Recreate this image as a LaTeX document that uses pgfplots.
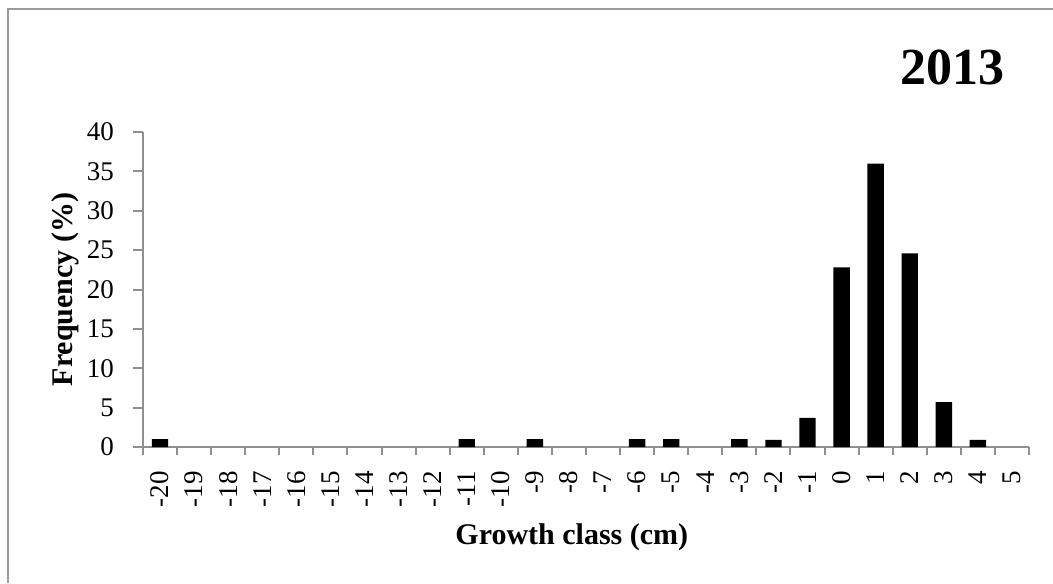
\documentclass[border=0pt]{standalone}
\usepackage{fontspec}
\setmainfont{Liberation Serif}
\usepackage{pgfplots}
\pgfplotsset{compat=1.18}
\definecolor{axgray}{HTML}{8F8F8F}
\definecolor{framegray}{HTML}{9A9A9A}
\begin{document}
\begin{tikzpicture}
\useasboundingbox (0,0) rectangle (526.5pt,291.5pt);
\draw[framegray, line width=1pt] (4pt,0) -- (4pt,287pt) -- (527pt,287pt);
\begin{axis}[
  at={(71.5pt,68pt)}, anchor=south west,
  scale only axis, width=443pt, height=157.5pt,
  axis lines=left,
  axis line style={axgray, line width=1pt, -},
  xmin=-0.5, xmax=25.5, ymin=0, ymax=40,
  ytick={0,5,...,40},
  xtick={0,...,25},
  xticklabels={-20,-19,-18,-17,-16,-15,-14,-13,-12,-11,-10,-9,-8,-7,-6,-5,-4,-3,-2,-1,0,1,2,3,4,5},
  minor xtick={-0.5,0.5,...,25.5},
  tick align=outside,
  major tick length=5pt, minor tick length=4pt,
  tick style={axgray, line width=1pt},
  major x tick style={draw=none},
  /pgf/number format/assume math mode=true,
  ticklabel style={font=\fontsize{13.5}{16}\selectfont},
  xticklabel style={rotate=90, anchor=east},
  xticklabel shift=3.5pt,
  yticklabel style={xshift=-6pt},
  label style={font=\bfseries\fontsize{15}{17}\selectfont},
  xlabel={Growth class (cm)},
  ylabel={Frequency (\%)},
  xlabel style={at={(axis description cs:0.484,-0.286)}, anchor=center},
  ylabel style={at={(axis description cs:-0.088,0.5)}, anchor=center},
  ybar, bar width=0.48,
  clip=false,
]
\addplot[fill=black, draw=none] coordinates {
  (0,1.0) (9,1.0) (11,1.0) (14,1.0) (15,1.0) (17,1.0) (18,0.9)
  (19,3.7) (20,22.8) (21,36.0) (22,24.6) (23,5.7) (24,0.9)
};
\end{axis}
\node[font=\bfseries\fontsize{26}{30}\selectfont] at (476pt,258pt) {2013};
\end{tikzpicture}
\end{document}
